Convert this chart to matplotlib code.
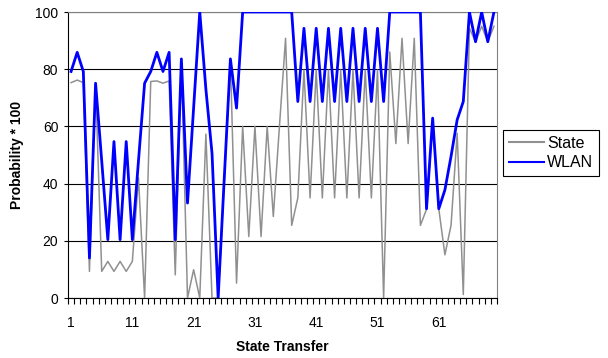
import numpy as np
import matplotlib
matplotlib.use("Agg")
import matplotlib.pyplot as plt

plt.rcParams['font.family'] = ['Liberation Sans', 'DejaVu Sans']

# values (Probability * 100 per state transfer)
steps = np.arange(1, 71)
state = [75.3, 76.2, 75.3, 9.3, 75, 9.3, 12.8, 9.3, 12.8, 9.3,
         12.8, 42, 0, 75.7, 75.9, 75.1, 75.9, 8.1, 83, 0,
         9.9, 0, 57.3, 0, 0, 41, 83.2, 5.2, 60, 21.5,
         60, 21.5, 60, 28.5, 60, 90.8, 25.4, 35, 79.7, 35,
         79.7, 35, 79.7, 35, 79.7, 35, 79.7, 35, 79.7, 35,
         79.7, 0, 86, 54, 90.8, 54, 90.8, 25.4, 31, 62,
         31.2, 15.1, 25.4, 57.6, 1.2, 94.3, 89.6, 95, 89.6, 95]
wlan = [79.2, 85.9, 79.2, 14, 75.1, 48, 20.4, 54.7, 20.4, 54.7,
        20.4, 48, 75.1, 79.2, 85.9, 79.2, 85.9, 20.4, 83.6, 33.2,
        66.6, 100, 73, 50.6, 0, 42, 83.6, 66.4, 100, 100,
        100, 100, 100, 100, 100, 100, 100, 68.7, 94.3, 68.7,
        94.3, 68.7, 94.3, 68.7, 94.3, 68.7, 94.3, 68.7, 94.3, 68.7,
        94.3, 68.7, 100, 100, 100, 100, 100, 100, 31.2, 62.9,
        31.2, 37.8, 49.5, 62.3, 68.7, 100, 89.6, 100, 89.6, 100]
xtick_labels = [1, 11, 21, 31, 41, 51, 61]
ytick_labels = [0, 20, 40, 60, 80, 100]

fig = plt.figure(figsize=(6.08, 3.58), dpi=100)
ax = fig.add_axes([68/608, 1-298/358, (497-68)/608, (298-12)/358])

ax.plot(steps, state, color='#909090', lw=1.1, label='State', zorder=3)
ax.plot(steps, wlan, color='#0000ff', lw=2.0, label='WLAN', zorder=4)

ax.set_xlim(0.5, 70.5)
ax.set_ylim(0, 100)
ax.set_yticks(ytick_labels)
ax.grid(axis='y', color='black', lw=0.8)
ax.set_axisbelow(True)

ax.set_xticks(xtick_labels)
ax.set_xticks(np.arange(0.5, 71, 1), minor=True)
ax.tick_params(axis='x', which='major', length=0, pad=13, labelsize=10)
ax.tick_params(axis='x', which='minor', length=4, width=0.8, direction='out')
ax.tick_params(axis='y', length=3, width=0.8, labelsize=10, pad=4)

for s in ['top', 'right']:
    ax.spines[s].set_color('#808080')
for s in ['left', 'bottom']:
    ax.spines[s].set_color('black')

ax.set_xlabel('State Transfer', fontsize=10, fontweight='bold', labelpad=7)
ax.set_ylabel('Probability * 100', fontsize=10, fontweight='bold', labelpad=8)

leg = fig.legend(loc='upper left', bbox_to_anchor=(503/608, 1-130/358),
                 fontsize=11.5, frameon=True, fancybox=False, edgecolor='black',
                 framealpha=1, handlelength=2.2, handletextpad=0.2,
                 borderpad=0.35, labelspacing=0.3, borderaxespad=0)
leg.get_frame().set_linewidth(0.8)
for h in leg.get_lines():
    h.set_linewidth(1.5)

fig.savefig('out.png', dpi=100)
